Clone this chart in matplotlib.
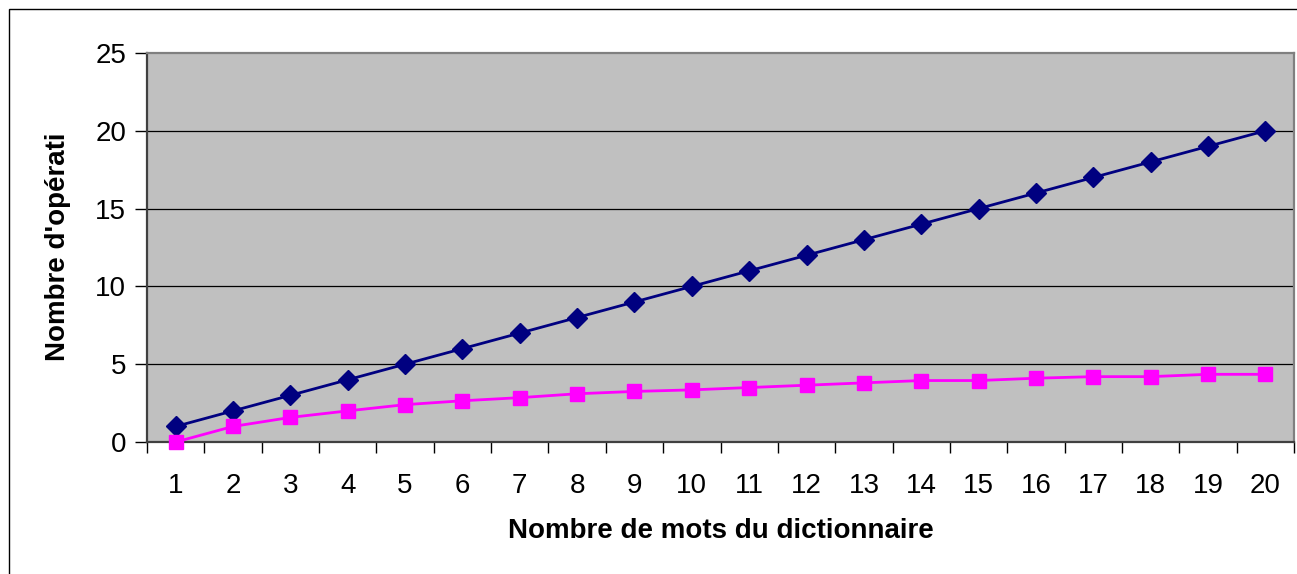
import matplotlib
matplotlib.use("Agg")
import matplotlib.pyplot as plt
from matplotlib.patches import Rectangle

# Dictionary size and operation counts for the two search methods
mots = list(range(1, 21))
operations_lineaire = [1, 2, 3, 4, 5, 6, 7, 8, 9, 10,
                       11, 12, 13, 14, 15, 16, 17, 18, 19, 20]
operations_dicho = [0, 1, 1.58, 2, 2.4, 2.65, 2.85, 3.1, 3.25, 3.35,
                    3.5, 3.65, 3.8, 3.95, 3.95, 4.1, 4.2, 4.2, 4.35, 4.35]
y_ticks = [0, 5, 10, 15, 20, 25]

plt.rcParams['font.family'] = ['Liberation Sans', 'DejaVu Sans']

W, H = 1297, 574
fig = plt.figure(figsize=(W / 100, H / 100), dpi=100)
fig.patch.set_facecolor('white')

# outer chart frame (right and bottom edges fall outside the image)
fig.patches.append(Rectangle((9 / W, -0.05), 1.2, 1 - 9 / H + 0.05,
                             transform=fig.transFigure, fill=False,
                             edgecolor='black', linewidth=1.0))

ax = fig.add_axes([147 / W, 1 - 442 / H, (1294 - 147) / W, (442 - 53) / H])
ax.set_facecolor('#c0c0c0')

ax.plot(mots, operations_lineaire, color='#000080', linewidth=2,
        marker='D', markersize=10, markerfacecolor='#000080',
        markeredgecolor='#000080', zorder=4, clip_on=False)
ax.plot(mots, operations_dicho, color='#ff00ff', linewidth=2,
        marker='s', markersize=10, markerfacecolor='#ff00ff',
        markeredgecolor='#ff00ff', zorder=4, clip_on=False)

ax.set_xlim(0.5, 20.5)
ax.set_ylim(0, 25)

ax.set_yticks(y_ticks)
ax.set_yticklabels([str(v) for v in y_ticks], fontsize=20)
ax.set_xticks(mots)
ax.set_xticklabels([str(m) for m in mots], fontsize=20)
ax.set_xticks([m + 0.5 for m in [0] + mots], minor=True)
ax.tick_params(axis='x', which='major', length=0, pad=22)
ax.tick_params(axis='x', which='minor', length=8, width=1, color='black',
               direction='out')
ax.tick_params(axis='y', length=9, width=1, color='black', direction='out',
               pad=6)

for yv in y_ticks[1:-1]:
    ax.axhline(yv, color='black', linewidth=0.9, zorder=1)

for side in ['left', 'bottom']:
    ax.spines[side].set_color('#404040')
    ax.spines[side].set_linewidth(1.6)
for side in ['top', 'right']:
    ax.spines[side].set_color('#808080')
    ax.spines[side].set_linewidth(1.6)

fig.text(721 / W, 1 - 531 / H, 'Nombre de mots du dictionnaire',
         fontsize=20, fontweight='bold', ha='center', va='center')
fig.text(58 / W, 1 - 247 / H, "Nombre d'opérati", fontsize=20,
         fontweight='bold', ha='center', va='center', rotation=90)

fig.savefig('out.png', dpi=100)
